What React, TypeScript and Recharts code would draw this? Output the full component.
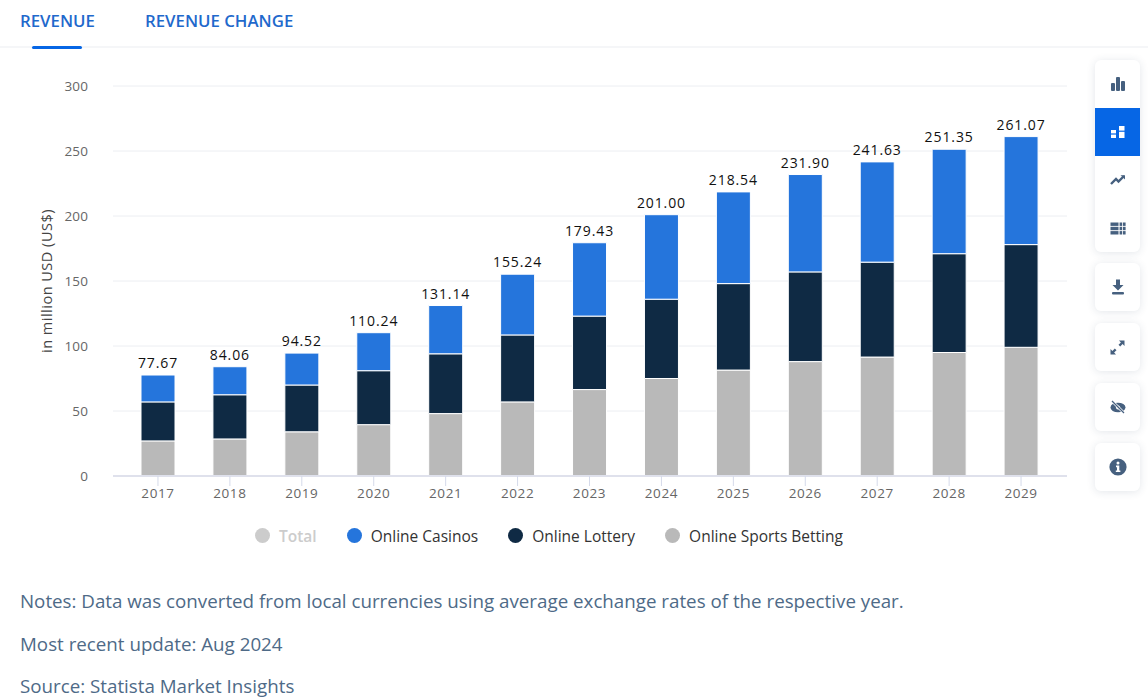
import { BarChart, Bar, XAxis, YAxis, CartesianGrid, LabelList } from 'recharts';

const years = ['2017', '2018', '2019', '2020', '2021', '2022', '2023', '2024', '2025', '2026', '2027', '2028', '2029'];
const sportsBetting = [27, 28.5, 34, 39.5, 48, 57, 66.5, 75, 81.5, 88, 91.5, 95, 99];
const lottery = [30, 34, 36, 41.5, 46, 51.5, 56.5, 61, 66.5, 69, 73, 76, 79];
const casinos = [20.67, 21.56, 24.52, 29.24, 37.14, 46.74, 56.43, 65, 70.54, 74.9, 77.13, 80.35, 83.07];
const totals = ['77.67', '84.06', '94.52', '110.24', '131.14', '155.24', '179.43', '201.00', '218.54', '231.90', '241.63', '251.35', '261.07'];
const yTicks = [0, 50, 100, 150, 200, 250, 300];
const notes = [
  'Notes: Data was converted from local currencies using average exchange rates of the respective year.',
  'Most recent update: Aug 2024',
  'Source: Statista Market Insights',
];
const legendItems = [
  { name: 'Total', color: '#cccccc', text: '#cccccc' },
  { name: 'Online Casinos', color: '#2575dc', text: '#333333' },
  { name: 'Online Lottery', color: '#0f2a44', text: '#333333' },
  { name: 'Online Sports Betting', color: '#b9b9b9', text: '#333333' },
];

const chartData = years.map((year, i) => ({
  year,
  sports: sportsBetting[i],
  lottery: lottery[i],
  casinos: casinos[i],
  total: totals[i],
}));

const FONT = '"Open Sans", sans-serif';
const xTickStyle = { fill: '#666666', fontSize: 13.5, fontFamily: FONT, letterSpacing: 0.6 };
const yTickStyle = { fill: '#666666', fontSize: 13.5, fontFamily: FONT, letterSpacing: 0.1 };

const Icon = ({ children }: any) => (
  <div style={{ height: 48, display: 'flex', alignItems: 'center', justifyContent: 'center' }}>{children}</div>
);

const ToolButton = ({ top, children }: any) => (
  <div
    style={{
      position: 'absolute',
      left: 1095,
      top,
      width: 45,
      background: '#fff',
      borderRadius: 6,
      boxShadow: '0 1px 8px rgba(40,60,90,0.13)',
      overflow: 'hidden',
    }}
  >
    {children}
  </div>
);

const iconColor = '#46607f';

export default function App() {
  return (
    <div style={{ position: 'absolute', left: 0, top: 0, width: 1148, height: 700, overflow: 'hidden', background: '#fff', fontFamily: FONT }}>
      <div style={{ position: 'absolute', left: 20, top: 9, fontSize: 16.8, fontWeight: 600, color: '#1f69cc' }}>REVENUE</div>
      <div style={{ position: 'absolute', left: 145, top: 9, fontSize: 16.8, fontWeight: 600, color: '#1f69cc' }}>REVENUE CHANGE</div>
      <div style={{ position: 'absolute', left: 0, top: 46, width: 1148, height: 2, background: '#f5f6f8' }} />
      <div style={{ position: 'absolute', left: 32, top: 46, width: 50, height: 3, borderRadius: 2, background: '#0666e5' }} />

      <div style={{ position: 'absolute', left: 0, top: 0 }}>
        <BarChart
          width={1090}
          height={520}
          data={chartData}
          barSize={34}
          margin={{ left: 0, right: 23, top: 86, bottom: 0 }}
        >
          <CartesianGrid vertical={false} stroke="#eceef2" />
          <XAxis
            dataKey="year"
            padding={{ left: 9, right: 10 }}
            tick={xTickStyle}
            tickLine={{ stroke: '#d5daea' }}
            axisLine={{ stroke: '#dfe1ec', strokeWidth: 2 }}
            tickSize={10}
            tickMargin={2}
            interval={0}
            height={44}
          />
          <YAxis
            type="number"
            domain={[0, 300]}
            ticks={yTicks}
            tick={yTickStyle}
            tickLine={false}
            axisLine={false}
            tickMargin={19}
            width={113}
            label={{
              value: 'in million USD (US$)',
              angle: -90,
              position: 'insideLeft',
              offset: 47,
              textAnchor: 'middle',
              fill: '#444444',
              fontSize: 14.5,
              fontFamily: FONT,
              letterSpacing: 0.5,
            }}
          />
          <Bar dataKey="sports" stackId="a" fill="#b9b9b9" stroke="#ffffff" isAnimationActive={false} />
          <Bar dataKey="lottery" stackId="a" fill="#0f2a44" stroke="#ffffff" isAnimationActive={false} />
          <Bar dataKey="casinos" stackId="a" fill="#2575dc" stroke="#ffffff" isAnimationActive={false}>
            <LabelList dataKey="total" position="top" offset={7} fill="#111111" fontSize={14} fontWeight={500} fontFamily={FONT} letterSpacing={0.9} />
          </Bar>
        </BarChart>
      </div>

      <div style={{ position: 'absolute', left: 255, top: 525, display: 'flex', alignItems: 'center', height: 21, fontSize: 15.5, fontWeight: 500 }}>
        {legendItems.map((item) => (
          <div key={item.name} style={{ display: 'flex', alignItems: 'center', marginRight: 30 }}>
            <span style={{ width: 15, height: 15, borderRadius: '50%', background: item.color, marginRight: 9 }} />
            <span style={{ color: item.text, fontWeight: item.name === 'Total' ? 600 : 500 }}>{item.name}</span>
          </div>
        ))}
      </div>

      {notes.map((note, i) => (
        <div key={note} style={{ position: 'absolute', left: 20, top: 588 + i * 42.5, fontSize: 18.75, color: '#4e6a87', whiteSpace: 'nowrap' }}>
          {note}
        </div>
      ))}

      <ToolButton top={60}>
        <Icon>
          <svg width="16" height="16" viewBox="0 0 16 16" fill={iconColor}>
            <rect x="1" y="7" width="4" height="8" rx="1" /><rect x="6" y="1" width="4" height="14" rx="1" /><rect x="11" y="5" width="4" height="10" rx="1" />
          </svg>
        </Icon>
        <div style={{ background: '#0666e5' }}>
          <Icon>
            <svg width="16" height="14" viewBox="0 0 16 14" fill="#fff">
              <rect x="1" y="5" width="5" height="3.4" /><rect x="1" y="9.6" width="5" height="3.4" /><rect x="9" y="1" width="5.5" height="4.6" /><rect x="9" y="6.8" width="5.5" height="6.2" />
            </svg>
          </Icon>
        </div>
        <Icon>
          <svg width="16" height="12" viewBox="0 0 16 12" fill="none" stroke={iconColor} strokeWidth="2.4">
            <path d="M1 10 L6 5 L8.5 7.5 L14 2" /><path d="M10.5 1.2 H15 V5.5" fill={iconColor} stroke="none" />
          </svg>
        </Icon>
        <Icon>
          <svg width="16" height="13" viewBox="0 0 16 13" fill={iconColor}>
            <rect x="0.5" y="0.5" width="8" height="3.4" /><rect x="9.6" y="0.5" width="2.6" height="3.4" /><rect x="13" y="0.5" width="2.6" height="3.4" />
            <rect x="0.5" y="4.8" width="8" height="3.4" /><rect x="9.6" y="4.8" width="2.6" height="3.4" /><rect x="13" y="4.8" width="2.6" height="3.4" />
            <rect x="0.5" y="9.1" width="8" height="3.4" /><rect x="9.6" y="9.1" width="2.6" height="3.4" /><rect x="13" y="9.1" width="2.6" height="3.4" />
          </svg>
        </Icon>
      </ToolButton>
      <ToolButton top={263}>
        <Icon>
          <svg width="14" height="16" viewBox="0 0 14 16" fill={iconColor}>
            <path d="M5 0.5 H9 V6 H12.5 L7 11.5 L1.5 6 H5 Z" /><rect x="1" y="13" width="12" height="2.4" rx="1" />
          </svg>
        </Icon>
      </ToolButton>
      <ToolButton top={323}>
        <Icon>
          <svg width="15" height="15" viewBox="0 0 15 15" fill={iconColor}>
            <path d="M9 0.5 H14.5 V6 L12.6 4.1 L10.2 6.5 L8.5 4.8 L10.9 2.4 Z" /><path d="M6 14.5 H0.5 V9 L2.4 10.9 L4.8 8.5 L6.5 10.2 L4.1 12.6 Z" />
          </svg>
        </Icon>
      </ToolButton>
      <ToolButton top={383}>
        <Icon>
          <svg width="16" height="14" viewBox="0 0 16 14">
            <ellipse cx="8" cy="7.5" rx="7.5" ry="4.8" fill={iconColor} />
            <circle cx="8" cy="7.5" r="2" fill="#fff" />
            <path d="M2 1 L14 13" stroke="#fff" strokeWidth="2.6" />
            <path d="M2 1 L14 13" stroke={iconColor} strokeWidth="1.3" />
          </svg>
        </Icon>
      </ToolButton>
      <ToolButton top={443}>
        <Icon>
          <svg width="18" height="18" viewBox="0 0 18 18">
            <circle cx="9" cy="9" r="8.6" fill={iconColor} />
            <circle cx="9" cy="5" r="1.5" fill="#fff" />
            <path d="M7 7.6 H10.3 V12.4 H11.4 V14 H6.8 V12.4 H8 V9.2 H7 Z" fill="#fff" />
          </svg>
        </Icon>
      </ToolButton>
    </div>
  );
}
